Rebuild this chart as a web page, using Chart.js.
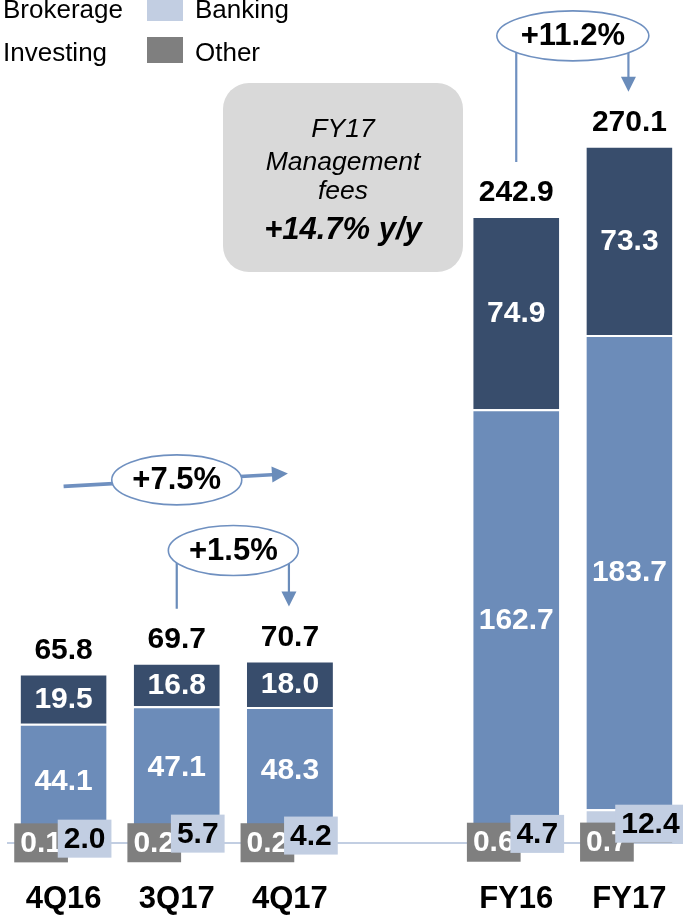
<!DOCTYPE html>
<html>
<head>
<meta charset="utf-8">
<script src="https://cdn.jsdelivr.net/npm/chart.js@4.4.0/dist/chart.umd.min.js"></script>
<style>
  html, body { margin: 0; padding: 0; background: #fff; overflow: hidden; }
  body { width: 683px; height: 916px; position: relative; font-family: Arial, "Liberation Sans", sans-serif; }
  #chart { position: absolute; left: 0; top: 0; }
  .leg { position: absolute; font-size: 26px; line-height: 26px; color: #000; white-space: nowrap; }
  .sw { position: absolute; width: 36px; }
  #callout {
    position: absolute; left: 223px; top: 83px; width: 240px; height: 189px;
    background: #d9d9d9; border-radius: 26px;
  }
  #callout div { position: absolute; left: 0; width: 100%; text-align: center; font-style: italic; color: #000; white-space: nowrap; }
  #callout .t { font-size: 26.5px; line-height: 30px; }
  #callout .b { font-size: 31px; line-height: 30px; font-weight: bold; }
</style>
</head>
<body>
<canvas id="chart" width="686" height="916"></canvas>

<!-- legend (left swatches are cropped off in the original) -->
<div class="leg" style="left:3px; top:-4px;">Brokerage</div>
<div class="sw" style="left:147px; top:-5px; height:26px; background:#c2cee2;"></div>
<div class="leg" style="left:195px; top:-4px;">Banking</div>
<div class="leg" style="left:3px; top:39px;">Investing</div>
<div class="sw" style="left:147px; top:37px; height:26px; background:#7f7f7f;"></div>
<div class="leg" style="left:195px; top:39px;">Other</div>

<div id="callout">
  <div class="t" style="top:30px;">FY17</div>
  <div class="t" style="top:63px;">Management</div>
  <div class="t" style="top:92px;">fees</div>
  <div class="b" style="top:131px;">+14.7% y/y</div>
</div>

<script>
// chart data
const categories = ['4Q16', '3Q17', '4Q17', '', 'FY16', 'FY17'];
const other     = [0.1, 0.2, 0.2, null, 0.6, 0.7];
const banking   = [2.0, 5.7, 4.2, null, 4.7, 12.4];
const investing = [44.1, 47.1, 48.3, null, 162.7, 183.7];
const brokerage = [19.5, 16.8, 18.0, null, 74.9, 73.3];
const totals    = [65.8, 69.7, 70.7, null, 242.9, 270.1];

// growth call-outs between bars
const bridges = [
  { from: 1, to: 2, text: '+1.5%', rx: 65 },
  { from: 4, to: 5, text: '+11.2%', rx: 76 }
];
const trend = { from: 0, mid: 1, to: 2, text: '+7.5%', rx: 65 };

const colors = {
  brokerage: '#384d6c',
  investing: '#6c8cb9',
  banking: '#c2cee2',
  other: '#7f7f7f',
  arrow: '#6a8cba'
};

const BOLD = 'bold 30px Arial, "Liberation Sans", sans-serif';

function arrowHead(ctx, x, y, angle, len, half) {
  ctx.save();
  ctx.translate(x, y);
  ctx.rotate(angle);
  ctx.beginPath();
  ctx.moveTo(0, 0);
  ctx.lineTo(-len, -half);
  ctx.lineTo(-len, half);
  ctx.closePath();
  ctx.fillStyle = colors.arrow;
  ctx.fill();
  ctx.restore();
}

function ellipseLabel(ctx, cx, cy, rx, ry, text) {
  ctx.beginPath();
  ctx.ellipse(cx, cy, rx, ry, 0, 0, Math.PI * 2);
  ctx.fillStyle = '#fff';
  ctx.fill();
  ctx.lineWidth = 1.6;
  ctx.strokeStyle = '#6f90c0';
  ctx.stroke();
  ctx.fillStyle = '#000';
  ctx.font = 'bold 31px Arial, "Liberation Sans", sans-serif';
  ctx.textAlign = 'center';
  ctx.textBaseline = 'middle';
  ctx.fillText(text, cx, cy + 1);
}

const labelPlugin = {
  id: 'barLabels',
  beforeDatasetsDraw(chart) {
    const ctx = chart.ctx;
    const y0 = chart.scales.y.getPixelForValue(0);
    ctx.save();
    ctx.strokeStyle = '#c2cee2';
    ctx.lineWidth = 2;
    ctx.beginPath();
    ctx.moveTo(chart.chartArea.left, y0);
    ctx.lineTo(683, y0);
    ctx.stroke();
    ctx.restore();
  },
  afterDatasetsDraw(chart) {
    const ctx = chart.ctx;
    const otherMeta = chart.getDatasetMeta(0).data;
    const bankMeta = chart.getDatasetMeta(1).data;
    const topMeta = chart.getDatasetMeta(3).data;
    ctx.save();
    ctx.font = BOLD;
    ctx.textBaseline = 'middle';
    ctx.textAlign = 'center';

    // white labels inside the two big segments
    [2, 3].forEach(di => {
      chart.getDatasetMeta(di).data.forEach((el, i) => {
        const v = chart.data.datasets[di].data[i];
        if (v == null) return;
        ctx.fillStyle = '#fff';
        ctx.fillText(v.toFixed(1), el.x, (el.y + el.base) / 2 + 1);
      });
    });

    categories.forEach((c, i) => {
      if (totals[i] == null) return;
      const o = otherMeta[i], b = bankMeta[i], t = topMeta[i];

      // Other: grey box, left of centre
      const oy = (o.y + o.base) / 2;
      const ox = o.x - 22.5;
      const otxt = other[i].toFixed(1);
      const ow = ctx.measureText(otxt).width + 12;
      ctx.fillStyle = colors.other;
      ctx.fillRect(ox - ow / 2, oy - 19.5, ow, 39);
      ctx.fillStyle = '#fff';
      ctx.fillText(otxt, ox, oy + 1);

      // Banking: light box, right of centre, at the segment's middle
      const by = (b.y + b.base) / 2 - 1.5;
      const bx = b.x + 21;
      const btxt = banking[i].toFixed(1);
      const bw = ctx.measureText(btxt).width + 12;
      ctx.fillStyle = colors.banking;
      ctx.fillRect(bx - bw / 2, by - 19, bw, 38);
      ctx.fillStyle = '#000';
      ctx.fillText(btxt, bx, by + 1);

      // total on top
      ctx.fillText(totals[i].toFixed(1), t.x, t.y - 23);
    });

    // bridge call-outs
    ctx.strokeStyle = colors.arrow;
    bridges.forEach(br => {
      const a = topMeta[br.from], z = topMeta[br.to];
      const cx = (a.x + z.x) / 2, cy = z.y - 110, ry = 25;
      const edge = x => cy + ry * Math.sqrt(Math.max(0, 1 - Math.pow((x - cx) / br.rx, 2)));
      ctx.lineWidth = 2.2;
      ctx.beginPath();
      ctx.moveTo(a.x, edge(a.x));
      ctx.lineTo(a.x, a.y - 54);
      ctx.moveTo(z.x - 1, edge(z.x - 1));
      ctx.lineTo(z.x - 1, z.y - 68);
      ctx.stroke();
      arrowHead(ctx, z.x - 1, z.y - 54, Math.PI / 2, 15, 7.5);
      ellipseLabel(ctx, cx, cy, br.rx, ry, br.text);
    });

    // trend line across the quarters
    const p0 = topMeta[trend.from], p2 = topMeta[trend.to], p1 = topMeta[trend.mid];
    const y0 = p0.y - 187, y2 = p2.y - 187;
    const tipX = p2.x - 2;
    ctx.lineWidth = 3.6;
    ctx.beginPath();
    ctx.moveTo(p0.x, y0);
    ctx.lineTo(tipX - 12, y2 + 1);
    ctx.stroke();
    arrowHead(ctx, tipX, y2, Math.atan2(y2 - y0, tipX - p0.x), 16, 8);
    const my = y0 + (y2 - y0) * (p1.x - p0.x) / (tipX - p0.x);
    ellipseLabel(ctx, p1.x, my, trend.rx, 25, trend.text);

    ctx.restore();
  }
};

new Chart(document.getElementById('chart'), {
  type: 'bar',
  data: {
    labels: categories,
    datasets: [
      { label: 'Other', data: other, backgroundColor: colors.other },
      { label: 'Banking', data: banking, backgroundColor: colors.banking },
      { label: 'Investing', data: investing, backgroundColor: colors.investing },
      { label: 'Brokerage', data: brokerage, backgroundColor: colors.brokerage }
    ].map(d => Object.assign(d, {
      borderColor: '#fff',
      borderWidth: { top: 2, bottom: 0, left: 0, right: 0 },
      borderSkipped: false,
      barPercentage: 0.76,
      categoryPercentage: 1
    }))
  },
  options: {
    responsive: false,
    animation: false,
    layout: { padding: { left: 7, right: 0, top: 0, bottom: 0 } },
    plugins: {
      legend: { display: false },
      tooltip: { enabled: false }
    },
    scales: {
      x: {
        stacked: true,
        grid: { display: false, drawTicks: true, tickLength: 38 },
        border: { display: false },
        ticks: {
          color: '#000',
          padding: 0,
          font: { family: 'Arial, "Liberation Sans", sans-serif', size: 31, weight: 'bold' }
        },
        afterFit: scale => { scale.height = 73; }
      },
      y: {
        stacked: true,
        display: false,
        min: 0,
        max: 326.6
      }
    }
  },
  plugins: [labelPlugin]
});
</script>
</body>
</html>
